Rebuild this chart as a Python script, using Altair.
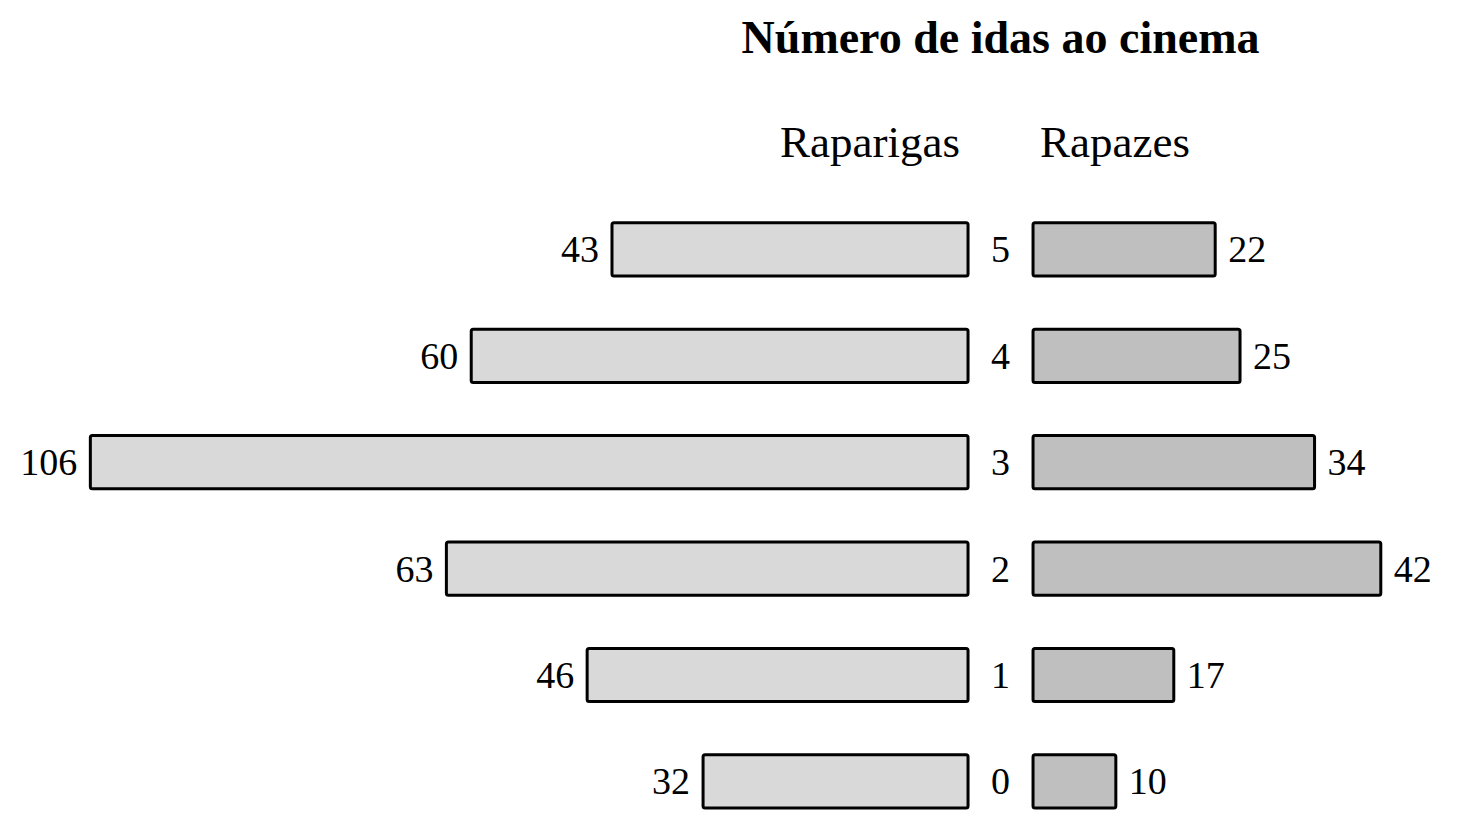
import altair as alt
import pandas as pd

# Data
idas = ["5", "4", "3", "2", "1", "0"]
raparigas = [43, 60, 106, 63, 46, 32]
rapazes = [22, 25, 34, 42, 17, 10]
titulo = "Número de idas ao cinema"
grupos = ["Raparigas", "Rapazes"]

G = 3.925  # half gap between the two sides, in data units
FONT = "Liberation Serif"

df = pd.DataFrame({"row": idas, "girls": raparigas, "boys": rapazes})
heads = pd.DataFrame({"row": ["header", "header"], "label": grupos, "side": [-1, 1]})
tit = pd.DataFrame({"row": ["title"], "label": [titulo]})

row_order = ["title", "header"] + idas
y = alt.Y("row:N", scale=alt.Scale(domain=row_order, paddingInner=0.5, paddingOuter=0), axis=None)
xs = alt.Scale(domain=[-119.87, 53.8], nice=False, zero=False)

base = alt.Chart(df)

left_bars = base.transform_calculate(
    x1="-datum.girls - %f" % G, x2="-%f" % G
).mark_bar(fill="#d9d9d9", stroke="black", strokeWidth=3, cornerRadius=2).encode(
    x=alt.X("x1:Q", scale=xs, axis=None), x2="x2:Q", y=y
)
right_bars = base.transform_calculate(
    x1="%f" % G, x2="datum.boys + %f" % G
).mark_bar(fill="#bfbfbf", stroke="black", strokeWidth=3, cornerRadius=2).encode(
    x=alt.X("x1:Q", scale=xs, axis=None), x2="x2:Q", y=y
)
left_lab = base.transform_calculate(
    x1="-datum.girls - %f" % G
).mark_text(font=FONT, fontSize=38, align="right", baseline="middle", dx=-13, dy=2, color="black").encode(
    x=alt.X("x1:Q", scale=xs, axis=None), y=y, text="girls:Q"
)
right_lab = base.transform_calculate(
    x1="datum.boys + %f" % G
).mark_text(font=FONT, fontSize=38, align="left", baseline="middle", dx=13, dy=2, color="black").encode(
    x=alt.X("x1:Q", scale=xs, axis=None), y=y, text="boys:Q"
)
mid_lab = base.transform_calculate(x1="0").mark_text(
    font=FONT, fontSize=38, align="center", baseline="middle", dy=2, color="black"
).encode(x=alt.X("x1:Q", scale=xs, axis=None), y=y, text="row:N")

head_l = alt.Chart(heads).transform_filter("datum.side < 0").transform_calculate(
    x1="-%f" % G
).mark_text(font=FONT, fontSize=45, align="right", baseline="middle", dx=-8, color="black").encode(
    x=alt.X("x1:Q", scale=xs, axis=None), y=y, text="label:N"
)
head_r = alt.Chart(heads).transform_filter("datum.side > 0").transform_calculate(
    x1="%f" % G
).mark_text(font=FONT, fontSize=45, align="left", baseline="middle", dx=7, color="black").encode(
    x=alt.X("x1:Q", scale=xs, axis=None), y=y, text="label:N"
)
title_t = alt.Chart(tit).transform_calculate(x1="0").mark_text(
    font=FONT, fontSize=46, fontWeight="bold", align="center", baseline="middle", dy=2, color="black"
).encode(x=alt.X("x1:Q", scale=xs, axis=None), y=y, text="label:N")

chart = alt.layer(
    left_bars, right_bars, left_lab, right_lab, mid_lab, head_l, head_r, title_t
).properties(
    width=1438, height=798, padding={"top": 2, "left": 0, "right": 0, "bottom": 0},
    background="white"
).configure_view(stroke=None)

chart.save("out.html", embed_options={"renderer": "svg", "actions": False})
